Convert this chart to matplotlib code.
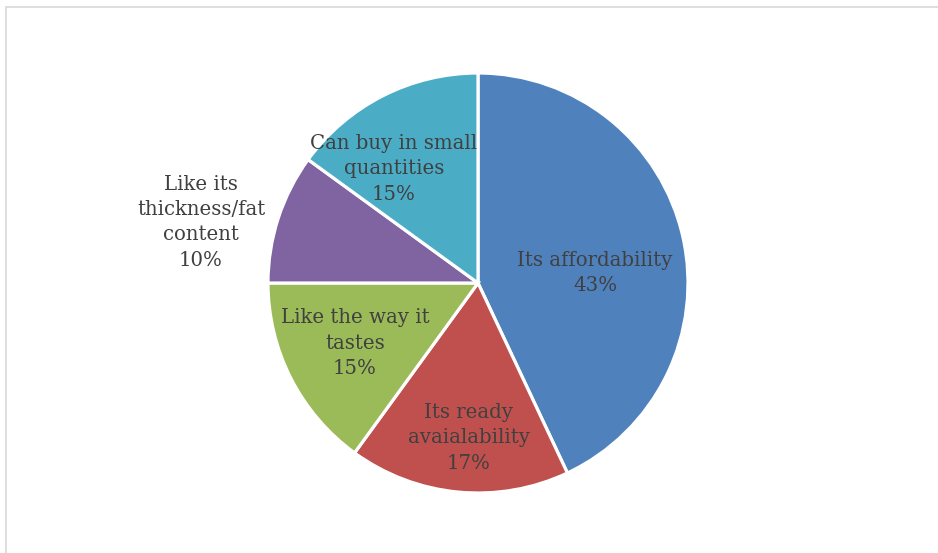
import matplotlib.pyplot as plt
from matplotlib.patches import Rectangle

# reasons for choosing the product
labels = ['Its affordability', 'Its ready\navaialability', 'Like the way it\ntastes',
          'Like its\nthickness/fat\ncontent', 'Can buy in small\nquantities']
shares = [43, 17, 15, 10, 15]
colors = ['#4F81BD', '#C0504D', '#9BBB59', '#8064A2', '#4BACC6']

# label centres, in pie-radius units from the centre
label_pos = [(0.557, 0.048), (-0.043, -0.738), (-0.586, -0.286),
             (-1.319, 0.290), (-0.40, 0.543)]

fig = plt.figure(figsize=(9.38, 5.53), dpi=100)
ax = fig.add_axes([0, 0, 1, 1])

ax.pie(shares, colors=colors, startangle=90, counterclock=False, radius=1,
       wedgeprops=dict(edgecolor='white', linewidth=2.3))

for lab, val, (x, y) in zip(labels, shares, label_pos):
    ax.text(x, y, f'{lab}\n{val}%', ha='center', va='center', fontsize=14.2,
            family='DejaVu Serif', color='#404040', linespacing=1.42)

ax.set_xlim(-478 / 210, 460 / 210)
ax.set_ylim(-270 / 210, 283 / 210)
ax.set_aspect('auto')
ax.axis('off')

# chart area frame (runs off the right and bottom edges)
fig.patches.append(Rectangle((6 / 938, -0.05), 1.1, 1 - 7 / 553 + 0.05,
                             transform=fig.transFigure, fill=False,
                             edgecolor='#d9d9d9', linewidth=1.2))

fig.savefig('out.png', dpi=100)
